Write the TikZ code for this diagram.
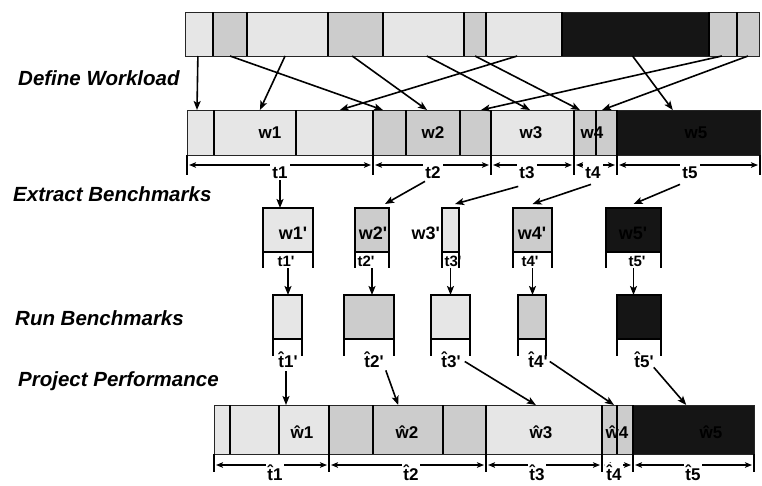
\documentclass[tikz,border=0pt]{standalone}
\usepackage{fontspec}
\newfontfamily\lab{Liberation Sans}
\usetikzlibrary{arrows.meta,fit,calc}
\definecolor{lt}{HTML}{E6E6E6}
\definecolor{md}{HTML}{CCCCCC}
\definecolor{dk}{HTML}{151515}
\newcommand\hatc[1]{#1^^^^0302}
\newcommand\segn[6]{\node[segbox,fill=#6,fit={(#2,#4)(#3,#5)}] (#1) {};}
\begin{document}
\begin{tikzpicture}[x=1pt,y=-1pt,
 segbox/.style={draw=black!85,line width=0.9pt,inner sep=0pt,outer sep=0pt},
 divl/.style={line width=1.7pt,black},
 bx/.style={draw=black,line width=1.4pt,inner sep=0pt,outer sep=0pt},
 arrw/.style={line width=1.6pt,-{Stealth[length=9pt,width=7pt,inset=2pt]}},
 dimar/.style={line width=1.1pt,{Stealth[length=7pt,width=5.5pt,inset=1.5pt]}-{Stealth[length=7pt,width=5.5pt,inset=1.5pt]}},
 tickl/.style={line width=1.4pt},
 ttl/.style={font=\lab\bfseries\itshape\fontsize{20.5}{24}\selectfont,anchor=base west,inner sep=0pt},
 wl/.style={font=\lab\bfseries\fontsize{17}{20}\selectfont,inner sep=0pt,anchor=base},
 wp/.style={font=\lab\bfseries\fontsize{18}{21}\selectfont,inner sep=0pt,anchor=base},
 tl/.style={font=\lab\bfseries\fontsize{17}{20}\selectfont,fill=white,inner sep=2pt,anchor=base},
 tp/.style={font=\lab\bfseries\fontsize{15}{18}\selectfont,inner sep=0pt,anchor=base},
 th/.style={font=\lab\bfseries\fontsize{17}{20}\selectfont,inner sep=0pt,anchor=base},
]
\useasboundingbox (0,0) rectangle (762,485);

% titles
\node[ttl] (tdef) at (18,85) {Define Workload};
\node[ttl] (text) at (13,201) {Extract Benchmarks};
\node[ttl] (trun) at (15,325) {Run Benchmarks};
\node[ttl] (tproj) at (18,386) {Project Performance};

% row 1
\segn{a1}{185}{213}{12}{56}{lt}
\segn{a2}{213}{247}{12}{56}{md}
\segn{a3}{247}{328}{12}{56}{lt}
\segn{a4}{328}{383}{12}{56}{md}
\segn{a5}{383}{464}{12}{56}{lt}
\segn{a6}{464}{486}{12}{56}{md}
\segn{a7}{486}{562}{12}{56}{lt}
\segn{a8}{562}{709}{12}{56}{dk}
\segn{a9}{709}{737}{12}{56}{md}
\segn{a10}{737}{759}{12}{56}{md}
\foreach \i in {1,...,9} \draw[divl] (a\i.north east) -- (a\i.south east);

% row 2
\segn{b1}{187}{214}{110}{155}{lt}
\segn{b2}{214}{296}{110}{155}{lt}
\segn{b3}{296}{373}{110}{155}{lt}
\segn{b4}{373}{406}{110}{155}{md}
\segn{b5}{406}{460}{110}{155}{md}
\segn{b6}{460}{491}{110}{155}{md}
\segn{b7}{491}{574}{110}{155}{lt}
\segn{b8}{574}{596}{110}{155}{md}
\segn{b9}{596}{617}{110}{155}{md}
\segn{b10}{617}{760}{110}{155}{dk}
\foreach \i in {1,...,9} \draw[divl] (b\i.north east) -- (b\i.south east);
\node[wl] (lw1) at (270,138) {w1};
\node[wl] (lw2) at (433,138) {w2};
\node[wl] (lw3) at (531,138) {w3};
\node[wl] (lw4) at (592,138) {w4};
\node[wl] (lw5) at (696,138) {w5};

% arrows row1 -> row2
\draw[arrw] ($(a1.south west)!0.46!(a1.south east)$) -- ($(b1.north west)!0.37!(b1.north east)$);
\draw[arrw] ($(a2.south west)!0.5!(a2.south east)$) -- ($(b4.north west)!0.3!(b4.north east)$);
\draw[arrw] ($(a3.south west)!0.47!(a3.south east)$) -- ($(b2.north west)!0.56!(b2.north east)$);
\draw[arrw] ($(a4.south west)!0.44!(a4.south east)$) -- ($(b5.north west)!0.39!(b5.north east)$);
\draw[arrw] ($(a5.south west)!0.54!(a5.south east)$) -- ($(b7.north west)!0.47!(b7.north east)$);
\draw[arrw] ($(a6.south west)!0.5!(a6.south east)$) -- ($(b8.north west)!0.27!(b8.north east)$);
\draw[arrw] ($(a7.south west)!0.41!(a7.south east)$) -- ($(b3.north west)!0.57!(b3.north east)$);
\draw[arrw] ($(a8.south west)!0.48!(a8.south east)$) -- ($(b10.north west)!0.39!(b10.north east)$);
\draw[arrw] ($(a9.south west)!0.46!(a9.south east)$) -- ($(b6.north west)!0.68!(b6.north east)$);
\draw[arrw] ($(a10.south west)!0.5!(a10.south east)$) -- ($(b9.north west)!0.29!(b9.north east)$);

% row 2 dimensions
\foreach \p in {b1.south west,b3.south east,b6.south east,b7.south east,b9.south east,b10.south east}
  \draw[tickl] (\p) -- ++(0,20);
\draw[dimar] ($(b1.south west)+(2,10)$) -- ($(b3.south east)+(-2,10)$);
\draw[dimar] ($(b3.south east)+(2,10)$) -- ($(b6.south east)+(-2,10)$);
\draw[dimar] ($(b6.south east)+(2,10)$) -- ($(b7.south east)+(-2,10)$);
\draw[dimar] ($(b7.south east)+(2,10)$) -- ($(b9.south east)+(-2,10)$);
\draw[dimar] ($(b9.south east)+(2,10)$) -- ($(b10.south east)+(-2,10)$);
\node[tl] (t1) at (280,178) {t1};
\node[tl] (t2) at (433,178) {t2};
\node[tl] (t3) at (527,178) {t3};
\node[tl] (t4) at (593,178) {t4};
\node[tl] (t5) at (690,178) {t5};

% extract benchmarks
\node[bx,fill=lt,fit={(263,208)(313,252)}] (e1) {};
\node[bx,fill=md,fit={(355,208)(389,252)}] (e2) {};
\node[bx,fill=lt,fit={(442,208)(459,252)}] (e3) {};
\node[bx,fill=md,fit={(513,208)(552,252)}] (e4) {};
\node[bx,fill=dk,fit={(606,208)(661,252)}] (e5) {};
\node[wp] (lw1p) at (293,239) {w1'};
\node[wp] (lw2p) at (373,239) {w2'};
\node[wp,anchor=base east] (lw3p) at (440,239) {w3'};
\node[wp] (lw4p) at (532,239) {w4'};
\node[wp] (lw5p) at (633,239) {w5'};

\draw[arrw] (t1.south) -- (t1.south |- e1.north);
\draw[arrw] ($(t2.south)+(-8,1)$) -- ($(e2.north east)+(-4,-4)$);
\draw[arrw] ($(t3.south west)+(1,6)$) -- ($(e3.north east)+(-4,-4)$);
\draw[arrw] ($(t4.south)+(-2,4)$) -- ($(e4.north)+(0,-4)$);
\draw[arrw] ($(t5.south)+(-10,4)$) -- ($(e5.north)+(0,-4)$);

\foreach \i in {1,...,5} {
  \draw[tickl] (e\i.south west) -- ++(0,16);
  \draw[tickl] (e\i.south east) -- ++(0,16);
}
\node[tp] (p1) at (286,266) {t1'};
\node[tp] (p2) at (366,266) {t2'};
\node[tp] (p3) at (453,266) {t3'};
\node[tp] (p4) at (530,266) {t4'};
\node[tp] (p5) at (637,266) {t5'};

% run benchmarks
\node[bx,fill=lt,fit={(273,295)(302,339)}] (r1) {};
\node[bx,fill=md,fit={(344,295)(394,339)}] (r2) {};
\node[bx,fill=lt,fit={(431,295)(470,339)}] (r3) {};
\node[bx,fill=md,fit={(518,295)(546,339)}] (r4) {};
\node[bx,fill=dk,fit={(617,295)(661,339)}] (r5) {};
\foreach \i in {1,...,5} {
  \draw[arrw] ($(p\i.south -| e\i.south)+(0,2)$) -- (e\i.south |- r\i.north);
  \draw[tickl] (r\i.south west) -- ++(0,17);
  \draw[tickl] (r\i.south east) -- ++(0,17);
}
\node[th] (h1) at (288,367) {\hatc{t}1'};
\node[th] (h2) at (374,367) {\hatc{t}2'};
\node[th] (h3) at (451,367) {\hatc{t}3'};
\node[th] (h4) at (538,367) {\hatc{t}4'};
\node[th] (h5) at (644,367) {\hatc{t}5'};

% bottom bar
\segn{c1}{214}{230}{405}{454}{lt}
\segn{c2}{230}{279}{405}{454}{lt}
\segn{c3}{279}{329}{405}{454}{lt}
\segn{c4}{329}{373}{405}{454}{md}
\segn{c5}{373}{443}{405}{454}{md}
\segn{c6}{443}{486}{405}{454}{md}
\segn{c7}{486}{602}{405}{454}{lt}
\segn{c8}{602}{617}{405}{454}{md}
\segn{c9}{617}{633}{405}{454}{md}
\segn{c10}{633}{754}{405}{454}{dk}
\foreach \i in {1,...,9} \draw[divl] (c\i.north east) -- (c\i.south east);
\node[wl] (lh1) at (302,438) {\hatc{w}1};
\node[wl] (lh2) at (407,438) {\hatc{w}2};
\node[wl] (lh3) at (541,438) {\hatc{w}3};
\node[wl] (lh4) at (617,438) {\hatc{w}4};
\node[wl] (lh5) at (711,438) {\hatc{w}5};

\draw[arrw] ($(h1.south)+(-2,4)$) -- ($(h1.south |- c3.north)+(-2,0)$);
\draw[arrw] ($(h2.south east)+(2,3)$) -- ($(c5.north west)!0.36!(c5.north east)$);
\draw[arrw] ($(h3.east)+(4,2)$) -- ($(c7.north west)!0.43!(c7.north east)$);
\draw[arrw] ($(h4.east)+(2,2)$) -- ($(c8.north west)!0.8!(c8.north east)$);
\draw[arrw] (h5.south east) -- ($(c10.north west)!0.44!(c10.north east)$);

% bottom dimensions
\foreach \p in {c1.south west,c3.south east,c6.south east,c7.south east,c9.south east,c10.south east}
  \draw[tickl] (\p) -- ++(0,18);
\draw[dimar] ($(c1.south west)+(2,11)$) -- ($(c3.south east)+(-2,11)$);
\draw[dimar] ($(c3.south east)+(2,11)$) -- ($(c6.south east)+(-2,11)$);
\draw[dimar] ($(c6.south east)+(2,11)$) -- ($(c7.south east)+(-2,11)$);
\draw[dimar] ($(c7.south east)+(2,11)$) -- ($(c9.south east)+(-2,11)$);
\draw[dimar] ($(c9.south east)+(2,11)$) -- ($(c10.south east)+(-2,11)$);
\node[tl,inner sep=1.5pt] (s1) at (275,480) {\hatc{t}1};
\node[tl,inner sep=1.5pt] (s2) at (411,480) {\hatc{t}2};
\node[tl,inner sep=1.5pt] (s3) at (537,480) {\hatc{t}3};
\node[tl,inner sep=1.5pt] (s4) at (614,480) {\hatc{t}4};
\node[tl,inner sep=1.5pt] (s5) at (693,480) {\hatc{t}5};
\end{tikzpicture}
\end{document}
